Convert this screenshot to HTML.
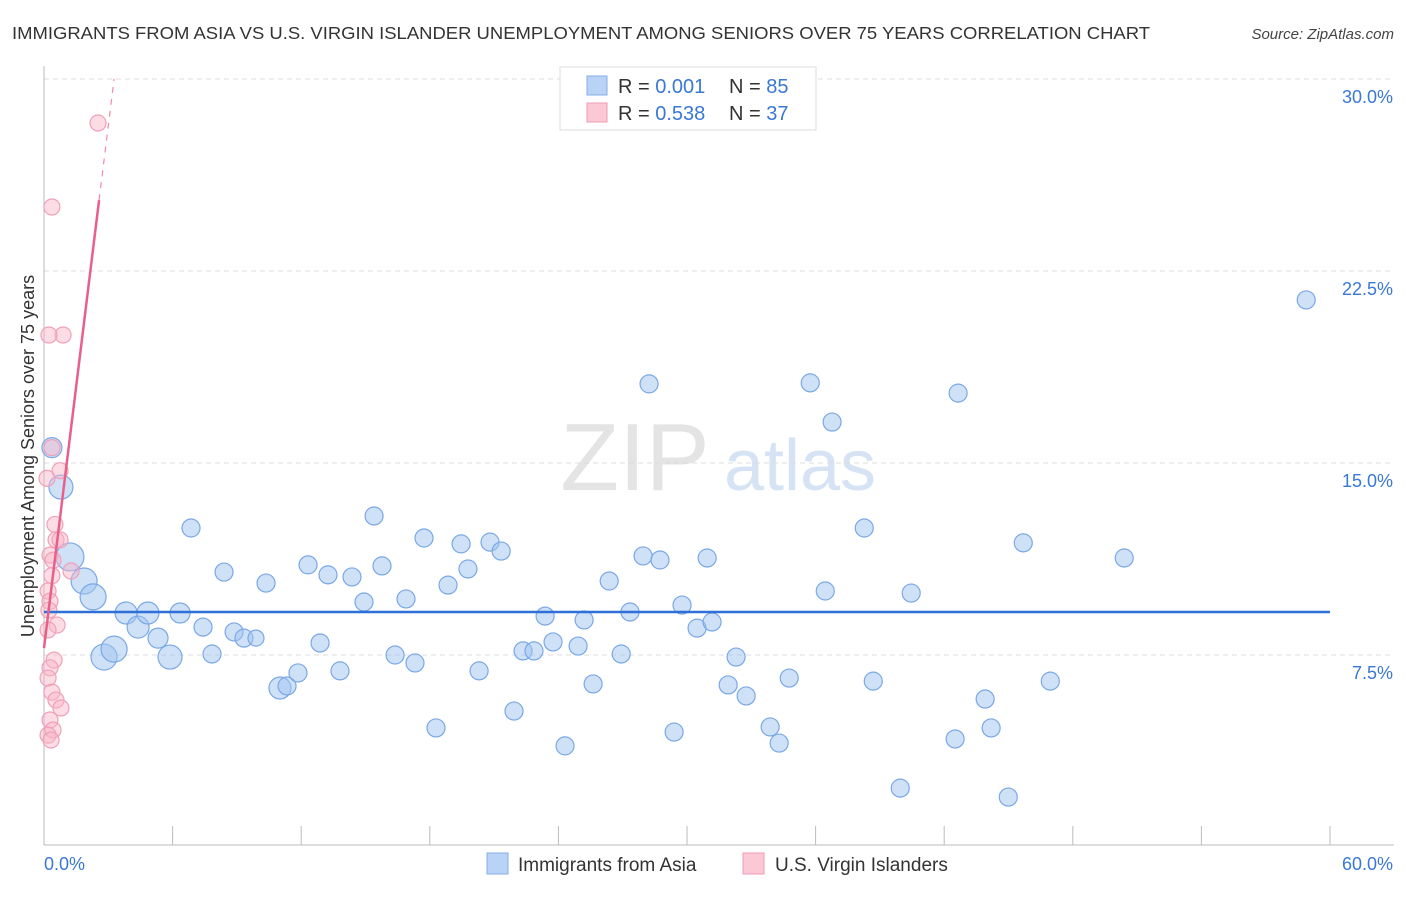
<!DOCTYPE html>
<html><head><meta charset="utf-8"><style>
body{margin:0;background:#fff;font-family:"Liberation Sans",sans-serif;}
svg text{font-family:"Liberation Sans",sans-serif;}
</style></head><body>
<svg id="chart" width="1406" height="892" xmlns="http://www.w3.org/2000/svg">
<text x="12" y="39" font-size="17.5" fill="#333" textLength="1138" lengthAdjust="spacingAndGlyphs">IMMIGRANTS FROM ASIA VS U.S. VIRGIN ISLANDER UNEMPLOYMENT AMONG SENIORS OVER 75 YEARS CORRELATION CHART</text>
<text x="1394" y="39" font-size="15" fill="#444" font-style="italic" text-anchor="end">Source: ZipAtlas.com</text>
<text transform="translate(34,456) rotate(-90)" font-size="18" fill="#333" text-anchor="middle">Unemployment Among Seniors over 75 years</text>
<g>
<text x="635" y="490" font-size="96" fill="#e4e4e4" font-family="Liberation Serif" text-anchor="middle">ZIP</text>
<text x="800" y="490" font-size="72" fill="#d5e3f5" text-anchor="middle">atlas</text>
</g>
<g id="grid"></g><g id="axes"></g><g id="marks"></g>
<g>
<rect x="560" y="67" width="256" height="63" fill="#fff" stroke="#ddd"/>
<rect x="587" y="76" width="20" height="19" fill="#b8d3f5" stroke="#86aee6"/>
<rect x="587" y="103" width="20" height="19" fill="#fbc8d6" stroke="#f09bb4"/>
<text x="618" y="93" font-size="20" fill="#333">R = <tspan fill="#3a78d6">0.001</tspan></text>
<text x="729" y="93" font-size="20" fill="#333">N = <tspan fill="#3a78d6">85</tspan></text>
<text x="618" y="120" font-size="20" fill="#333">R = <tspan fill="#3a78d6">0.538</tspan></text>
<text x="729" y="120" font-size="20" fill="#333">N = <tspan fill="#3a78d6">37</tspan></text>
</g>
<g>
<rect x="487" y="853" width="21" height="21" fill="#b8d3f5" stroke="#86aee6"/>
<text x="518" y="871" font-size="19" fill="#333">Immigrants from Asia</text>
<rect x="743" y="853" width="21" height="21" fill="#fbc8d6" stroke="#f09bb4"/>
<text x="775" y="871" font-size="19" fill="#333">U.S. Virgin Islanders</text>
</g>
</svg>
<script>
const xTicks=[0,6,12,18,24,30,36,42,48,54,60];
const yTicks=[7.5,15,22.5,30];
const yTickLabels=["7.5%","15.0%","22.5%","30.0%"];
const blueX=[0.37,0.79,1.21,1.87,2.29,2.80,3.27,3.83,4.39,4.85,5.32,5.88,6.35,6.86,7.42,7.84,8.40,8.87,9.33,9.89,10.36,11.01,11.34,11.85,12.32,12.88,13.25,13.81,14.37,14.93,15.40,15.77,16.38,16.89,17.31,17.73,18.29,18.85,19.46,19.78,20.30,20.81,21.33,21.93,22.35,22.86,23.38,23.75,24.31,24.92,25.20,25.62,26.37,26.93,27.34,27.95,28.23,28.74,29.40,29.77,30.47,30.94,31.17,31.92,32.29,32.76,33.88,34.30,34.77,35.75,36.45,36.77,38.27,38.69,39.95,40.46,42.51,42.65,43.91,44.19,44.99,45.69,46.95,50.40,58.89];
const blueY=[15.6,14.06,11.33,10.39,9.77,7.42,7.73,9.14,8.59,9.14,8.16,7.42,9.14,12.46,8.59,7.54,10.74,8.40,8.16,8.16,10.31,6.21,6.29,6.80,11.02,7.97,10.63,6.88,10.55,9.57,12.93,10.98,7.50,9.69,7.19,12.07,4.65,10.23,11.84,10.86,6.88,11.91,11.56,5.31,7.66,7.66,9.02,8.01,3.95,7.85,8.87,6.37,10.39,7.54,9.18,11.37,18.09,11.21,4.49,9.45,8.55,11.29,8.79,6.33,7.42,5.90,4.69,4.06,6.60,18.13,10.0,16.60,12.46,6.48,2.30,9.92,4.22,17.73,5.78,4.65,1.95,11.88,6.48,11.29,21.37];
const blueR=[10,12,14,13,13,13,13,11,11,11,10,12,10,9,9,9,9,9,9,8,9,11,9,9,9,9,9,9,9,9,9,9,9,9,9,9,9,9,9,9,9,9,9,9,9,9,9,9,9,9,9,9,9,9,9,9,9,9,9,9,9,9,9,9,9,9,9,9,9,9,9,9,9,9,9,9,9,9,9,9,9,9,9,9,9];
const pinkX=[2.52,0.37,0.89,0.23,0.37,0.75,0.14,0.51,0.56,0.75,0.28,0.42,1.26,0.37,0.19,0.28,0.23,0.61,0.19,0.47,0.28,0.19,0.37,0.56,0.79,0.28,0.42,0.19,0.33];
const pinkY=[28.28,25.0,20.0,20.0,15.6,14.7,14.4,12.6,12.0,12.0,11.4,11.2,10.78,10.6,10.0,9.6,9.25,8.67,8.48,7.3,7.0,6.6,6.05,5.74,5.43,4.96,4.57,4.37,4.18];
const blueTrend=[0,60,9.18,9.18];
const pinkTrend=[0,2.57,7.77,25.27];
const pinkTrendDash=[2.57,3.27,25.27,30.0];
const NS="http://www.w3.org/2000/svg";
const X=v=>44+v/60*1286, Y=v=>847-v/7.5*192;
function mk(t,a,p){const e=document.createElementNS(NS,t);for(const k in a)e.setAttribute(k,a[k]);p.appendChild(e);return e;}
const grid=document.getElementById('grid'),axes=document.getElementById('axes'),marks=document.getElementById('marks');
yTicks.forEach((t,i)=>{
 const l=mk('line',{x1:44,x2:1394,y1:Y(t),y2:Y(t),stroke:'#ddd','stroke-dasharray':'5,4'},grid);
 
 
 const tx=mk('text',{x:1393,y:Y(t)+24,'font-size':18,fill:'#3a78d6','text-anchor':'end'},axes);tx.textContent=yTickLabels[i];
 
 
});
const ax=mk('line',{x1:44,x2:1394,y1:845,y2:845,stroke:'#bbb'},axes);


const ay=mk('line',{x1:44,x2:44,y1:66,y2:845,stroke:'#bbb'},axes);


xTicks.forEach(t=>{if(t===0)return;const l=mk('line',{x1:X(t),x2:X(t),y1:826,y2:845,stroke:'#bbb'},axes);
 
 });
const l0=mk('text',{x:44,y:870,'font-size':18,fill:'#3a78d6'},axes);l0.textContent='0.0%';


const l1=mk('text',{x:1393,y:870,'font-size':18,fill:'#3a78d6','text-anchor':'end'},axes);l1.textContent='60.0%';


blueX.forEach((v,i)=>{const c=mk('circle',{cx:X(v),cy:Y(blueY[i]),r:blueR[i],fill:'rgba(160,196,240,0.5)',stroke:'#7aa8e6','stroke-width':1.2},marks);
 
 });
pinkX.forEach((v,i)=>{const c=mk('circle',{cx:X(v),cy:Y(pinkY[i]),r:8,fill:'rgba(248,180,200,0.45)',stroke:'#f0a0b8','stroke-width':1.2},marks);
 
 });
const bt=mk('line',{x1:X(blueTrend[0]),x2:X(blueTrend[1]),y1:Y(blueTrend[2]),y2:Y(blueTrend[3]),stroke:'#2f6fd8','stroke-width':2.5},marks);


const pt=mk('line',{x1:X(pinkTrend[0]),x2:X(pinkTrend[1]),y1:Y(pinkTrend[2]),y2:Y(pinkTrend[3]),stroke:'#e8608a','stroke-width':2.5},marks);


const pd=mk('line',{x1:X(pinkTrendDash[0]),x2:X(pinkTrendDash[1]),y1:Y(pinkTrendDash[2]),y2:Y(pinkTrendDash[3]),stroke:'#f08aa8','stroke-width':1.2,'stroke-dasharray':'6,6'},marks);


</script>
</body></html>
